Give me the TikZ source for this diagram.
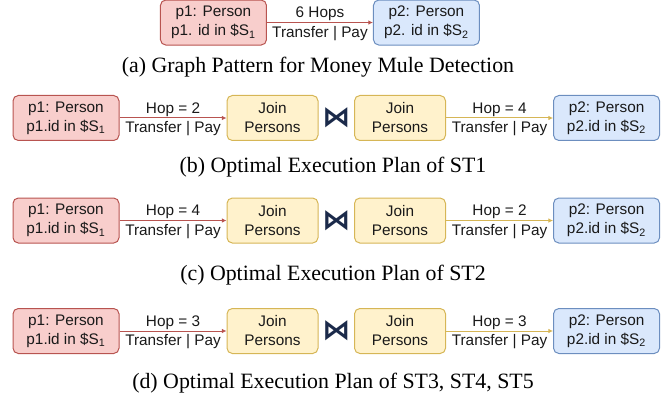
\documentclass[tikz,border=0pt]{standalone}
\usepackage{fontspec}
\setmainfont{Liberation Serif}
\newfontfamily\boxfont{Liberation Sans}
\newfontfamily\joinfont{DejaVu Sans}
\usetikzlibrary{positioning,arrows.meta}
\definecolor{redfill}{HTML}{F8CECC}
\definecolor{redline}{HTML}{B85450}
\definecolor{yelfill}{HTML}{FFF2CC}
\definecolor{yelline}{HTML}{D6B656}
\definecolor{bluefill}{HTML}{DAE8FC}
\definecolor{blueline}{HTML}{6C8EBF}
\definecolor{joinnavy}{HTML}{1B2A4A}
\tikzset{nodebox/.style={draw, rounded corners=4pt, line width=0.75pt,
        align=center, inner sep=0pt, minimum height=33.75pt,
        font=\boxfont\fontsize{11.5}{14.25}\selectfont, text=black!90},
    pstart/.style={nodebox, fill=redfill, draw=redline, minimum width=79.5pt},
    pend/.style={nodebox, fill=bluefill, draw=blueline, minimum width=79.5pt},
    joinbox/.style={nodebox, fill=yelfill, draw=yelline, minimum width=68.25pt},
    joinop/.style={inner sep=0pt, minimum width=26.25pt, text=joinnavy,
        font=\joinfont\bfseries\fontsize{21}{21}\selectfont},
    hop/.style={line width=0.75pt, -{Latex[length=3.5pt,width=3.5pt]}},
    hoptext/.style={font=\boxfont\fontsize{11.5}{14.25}\selectfont,
        inner sep=1pt, text=black!90},
    hopup/.style={hoptext, above, inner sep=0.8pt},
    hopdown/.style={hoptext, below, inner sep=2.2pt},
    caption/.style={font=\fontsize{16.4}{19}\selectfont, inner sep=0pt},
    }
\begin{document}
\begin{tikzpicture}
\useasboundingbox (0,0) rectangle (502.5pt,-301.5pt);
% (a) pattern
\node[pstart] (p1a) at (160.1pt,-16.9pt) {p1: Person\\p1. id in \$S\textsubscript{1}};
\node[pend, right=79.5pt of p1a] (p2a) {p2: Person\\p2. id in \$S\textsubscript{2}};
\draw[hop, redline] (p1a) -- node[hopup] {6 Hops}
    node[hopdown] {Transfer | Pay} (p2a);
\node[caption] (capa) at (238.5pt,-50.25pt) {(a) Graph Pattern for Money Mule Detection};

% (b) ST1
\node[pstart] (p1b) at (49.5pt,-88.5pt) {p1: Person\\p1.id in \$S\textsubscript{1}};
\node[joinbox, right=80.25pt of p1b] (jb1) {Join\\Persons};
\node[joinop, right=0pt of jb1] (opb) {⋈};
\node[joinbox, right=0pt of opb] (jb2) {Join\\Persons};
\node[pend, right=80.25pt of jb2] (p2b) {p2: Person\\p2.id in \$S\textsubscript{2}};
\draw[hop, redline] (p1b) -- node[hopup] {Hop = 2}
    node[hopdown] {Transfer | Pay} (jb1);
\draw[hop, yelline] (jb2) -- node[hopup] {Hop = 4}
    node[hopdown] {Transfer | Pay} (p2b);
\node[caption] (capb) at (249.75pt,-125.25pt) {(b) Optimal Execution Plan of ST1};

% (c) ST2
\node[pstart] (p1c) at (49.5pt,-165.4pt) {p1: Person\\p1.id in \$S\textsubscript{1}};
\node[joinbox, right=80.25pt of p1c] (jc1) {Join\\Persons};
\node[joinop, right=0pt of jc1] (opc) {⋈};
\node[joinbox, right=0pt of opc] (jc2) {Join\\Persons};
\node[pend, right=80.25pt of jc2] (p2c) {p2: Person\\p2.id in \$S\textsubscript{2}};
\draw[hop, redline] (p1c) -- node[hopup] {Hop = 4}
    node[hopdown] {Transfer | Pay} (jc1);
\draw[hop, yelline] (jc2) -- node[hopup] {Hop = 2}
    node[hopdown] {Transfer | Pay} (p2c);
\node[caption] (capc) at (249.75pt,-206.25pt) {(c) Optimal Execution Plan of ST2};

% (d) ST3, ST4, ST5
\node[pstart] (p1d) at (49.5pt,-248.25pt) {p1: Person\\p1.id in \$S\textsubscript{1}};
\node[joinbox, right=80.25pt of p1d] (jd1) {Join\\Persons};
\node[joinop, right=0pt of jd1] (opd) {⋈};
\node[joinbox, right=0pt of opd] (jd2) {Join\\Persons};
\node[pend, right=80.25pt of jd2] (p2d) {p2: Person\\p2.id in \$S\textsubscript{2}};
\draw[hop, redline] (p1d) -- node[hopup] {Hop = 3}
    node[hopdown] {Transfer | Pay} (jd1);
\draw[hop, yelline] (jd2) -- node[hopup] {Hop = 3}
    node[hopdown] {Transfer | Pay} (p2d);
\node[caption] (capd) at (249.75pt,-287.25pt) {(d) Optimal Execution Plan of ST3, ST4, ST5};
\end{tikzpicture}
\end{document}
